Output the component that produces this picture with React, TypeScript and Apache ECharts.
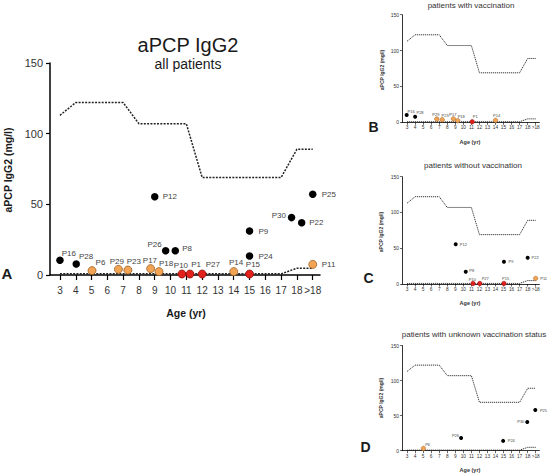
import React, { useEffect, useRef } from 'react';
import * as echarts from 'echarts';

// ---------- data ----------
const tickAges = [3, 4, 5, 6, 7, 8, 9, 10, 11, 12, 13, 14, 15, 16, 17, 18, 19];
const tickLabels = ['3', '4', '5', '6', '7', '8', '9', '10', '11', '12', '13', '14', '15', '16', '17', '18', '>18'];

const upperRefAge = [3, 4, 7, 8, 11, 12, 17, 18, 19];
const upperRefValue = [113, 122, 122, 107, 107, 69, 69, 89, 89];
const lowerRefAge = [3, 17, 18, 19];
const lowerRefValue = [0.8, 0.8, 4.8, 4.8];

// Panel A: all patients
const allNames = ['P16', 'P28', 'P6', 'P29', 'P23', 'P17', 'P18', 'P12', 'P26', 'P8', 'P10', 'P1', 'P27', 'P14', 'P15', 'P9', 'P24', 'P30', 'P22', 'P25', 'P11'];
const allAges = [3, 4.03, 5.03, 6.7, 7.3, 8.74, 9.27, 9.0, 9.69, 10.3, 10.72, 11.23, 12, 14, 15, 15, 15, 17.66, 18.3, 19, 19];
const allValues = [10.4, 7.8, 3.1, 4.0, 3.5, 4.5, 2.4, 55.4, 17.2, 17.2, 0.7, 0.7, 0.7, 2.4, 0.7, 31.1, 13.4, 40.6, 37, 57.1, 7.5];
const allKinds = ['black', 'black', 'orange', 'orange', 'orange', 'orange', 'orange', 'black', 'black', 'black', 'red', 'red', 'red', 'orange', 'red', 'black', 'black', 'black', 'black', 'black', 'orange'];

// Panel B: with vaccination
const vacNames = ['P16', 'P28', 'P29', 'P23', 'P17', 'P18', 'P1', 'P14'];
const vacAges = [2.95, 4.0, 6.7, 7.37, 8.76, 9.3, 11.1, 14.0];
const vacValues = [10.3, 7.8, 4.5, 3.6, 4.8, 2.3, 0.7, 2.7];
const vacKinds = ['black', 'black', 'orange', 'orange', 'orange', 'orange', 'red', 'orange'];

// Panel C: without vaccination
const noVacNames = ['P12', 'P8', 'P10', 'P27', 'P9', 'P15', 'P22', 'P11'];
const noVacAges = [9.05, 10.3, 11.2, 12.05, 15.05, 15.05, 18.0, 19.0];
const noVacValues = [55.5, 17.0, 0.7, 0.7, 31.0, 0.7, 36.8, 7.8];
const noVacKinds = ['black', 'black', 'red', 'red', 'black', 'red', 'black', 'orange'];

// Panel D: unknown vaccination status
const unkNames = ['P6', 'P26', 'P24', 'P30', 'P25'];
const unkAges = [5.03, 9.72, 14.95, 17.95, 18.95];
const unkValues = [3.3, 18.0, 14.0, 41.0, 58.0];
const unkKinds = ['orange', 'black', 'black', 'black', 'black'];

// ---------- styling (not data) ----------
const labelPlacement: Record<string, [number, number, string]> = {
  P12: [8, 0, 'left'], P25: [9, 0, 'left'], P30: [-5.7, -1.7, 'right'], P22: [7.6, 0, 'left'],
  P9: [9, 0, 'left'], P26: [-4, -5.7, 'right'], P8: [7, -2.5, 'left'], P24: [9, 0, 'left'],
  P16: [1.7, -7, 'left'], P28: [2.7, -7.3, 'left'], P6: [4, -8, 'left'], P29: [-8.3, -7.6, 'left'],
  P23: [-0.7, -8, 'left'], P17: [-7.4, -7.7, 'left'], P18: [0.3, -7.4, 'left'], P10: [-7.7, -8, 'left'],
  P1: [1.7, -9, 'left'], P27: [4, -9, 'left'], P14: [-4.4, -8.4, 'left'], P15: [-3.3, -9, 'left'],
  P11: [9.4, 0, 'left'],
};

const kindStyle: Record<string, { fill: string; border: string; bw: number }> = {
  black: { fill: '#000000', border: '#000000', bw: 0 },
  orange: { fill: '#F2A455', border: '#9A5E22', bw: 0.8 },
  red: { fill: '#E3211C', border: '#8A1010', bw: 0.8 },
};

const FONT = 'Liberation Sans, Arial, Helvetica, sans-serif';

export default function App() {
  const ref = useRef<HTMLDivElement>(null);

  useEffect(() => {
    if (!ref.current) return;
    const chart = echarts.init(ref.current, undefined, { renderer: 'svg' });

    const grids = [
      { left: 50, top: 63, width: 270, height: 212 },
      { left: 402, top: 14.7, width: 137.4, height: 107.6 },
      { left: 402, top: 176.7, width: 137.4, height: 107.3 },
      { left: 402, top: 345.5, width: 137.4, height: 105.2 },
    ];
    const big = [true, false, false, false];

    const xAxes = grids.map((_, i) => ({
      type: 'value',
      gridIndex: i,
      min: 2.37,
      max: 19.46,
      splitLine: { show: false },
      axisLine: { show: true, lineStyle: { color: '#000', width: big[i] ? 1.5 : 0.8 } },
      axisTick: {
        show: true,
        customValues: tickAges,
        length: big[i] ? 5 : 2.5,
        lineStyle: { color: '#000', width: big[i] ? 1.2 : 0.6 },
      },
      axisLabel: {
        customValues: tickAges,
        formatter: (v: number) => tickLabels[tickAges.indexOf(Math.round(v))] ?? '',
        fontSize: big[i] ? 10 : 4.8,
        fontFamily: FONT,
        color: '#333',
        margin: big[i] ? 10 : 3,
      },
    }));

    const yAxes = grids.map((_, i) => ({
      type: 'value',
      gridIndex: i,
      min: 0,
      max: 150,
      interval: 50,
      splitLine: { show: false },
      axisLine: { show: true, lineStyle: { color: '#000', width: big[i] ? 1.5 : 0.8 } },
      axisTick: { show: true, length: big[i] ? 4 : 2, lineStyle: { color: '#000', width: big[i] ? 1.2 : 0.6 } },
      axisLabel: {
        fontSize: big[i] ? 11 : 5,
        fontFamily: FONT,
        color: '#333',
        margin: big[i] ? 7 : 3,
      },
    }));

    const panels = [
      { names: allNames, ages: allAges, values: allValues, kinds: allKinds },
      { names: vacNames, ages: vacAges, values: vacValues, kinds: vacKinds },
      { names: noVacNames, ages: noVacAges, values: noVacValues, kinds: noVacKinds },
      { names: unkNames, ages: unkAges, values: unkValues, kinds: unkKinds },
    ];

    const series: any[] = [];
    panels.forEach((p, i) => {
      const scale = big[i] ? 1 : 0.51;
      series.push({
        type: 'line',
        xAxisIndex: i,
        yAxisIndex: i,
        data: upperRefAge.map((a, k) => [a, upperRefValue[k]]),
        symbol: 'none',
        silent: true,
        lineStyle: { color: '#222', width: big[i] ? 1.5 : 0.9, type: big[i] ? [2, 1.3] : [1.2, 0.8] },
      });
      series.push({
        type: 'line',
        xAxisIndex: i,
        yAxisIndex: i,
        data: lowerRefAge.map((a, k) => [a, lowerRefValue[k]]),
        symbol: 'none',
        silent: true,
        lineStyle: { color: '#222', width: big[i] ? 1.5 : 0.9, type: big[i] ? [2, 1.3] : [1.2, 0.8] },
      });
      ['black', 'orange', 'red'].forEach((kind) => {
        const ks = kindStyle[kind];
        const size = big[i] ? (kind === 'black' ? 7.5 : 8) : (kind === 'black' ? 4 : 4.5);
        const data = p.names
          .map((n, k) => ({ n, k }))
          .filter(({ k }) => p.kinds[k] === kind)
          .map(({ n, k }) => {
            const lp = labelPlacement[n] || [6, 0, 'left'];
            return {
              name: n,
              value: [p.ages[k], p.values[k]],
              label: {
                position: [size / 2 + lp[0] * scale, size / 2 + lp[1] * scale],
                align: lp[2],
              },
            };
          });
        series.push({
          type: 'scatter',
          xAxisIndex: i,
          yAxisIndex: i,
          symbol: 'circle',
          symbolSize: size,
          clip: false,
          z: 5,
          itemStyle: { color: ks.fill, borderColor: ks.border, borderWidth: big[i] ? ks.bw : ks.bw * 0.6, opacity: 1 },
          label: {
            show: true,
            formatter: (d: any) => d.name,
            fontSize: big[i] ? 8 : 4,
            fontFamily: FONT,
            color: '#444',
            verticalAlign: 'middle',
          },
          data,
        });
      });
    });

    const txt = (text: string, x: number, y: number, size: number, bold = false, rotation = 0, color = '#1a1a1a') => ({
      type: 'text',
      x,
      y,
      rotation,
      silent: true,
      style: {
        text,
        fontSize: size,
        fontFamily: FONT,
        fontWeight: bold ? 'bold' : 'normal',
        fill: color,
        textAlign: 'center',
        textVerticalAlign: 'middle',
      },
    });

    const graphic = [
      txt('aPCP IgG2', 188, 45, 20),
      txt('all patients', 188, 64, 14),
      txt('aPCP IgG2 (mg/l)', 8, 170, 10.5, true, Math.PI / 2),
      txt('Age (yr)', 186, 313, 10.5, true),
      txt('A', 7, 273, 15, true),

      txt('patients with vaccination', 471, 5, 8, false, 0, '#333'),
      txt('aPCP IgG2 (mg/l)', 382, 70, 5, true, Math.PI / 2, '#333'),
      txt('Age (yr)', 470, 141.5, 5.5, true, 0, '#333'),
      txt('B', 373.5, 127, 14, true),

      txt('patients without vaccination', 473, 165.5, 8, false, 0, '#333'),
      txt('aPCP IgG2 (mg/l)', 381, 232, 5, true, Math.PI / 2, '#333'),
      txt('Age (yr)', 470, 303, 5.5, true, 0, '#333'),
      txt('C', 368.5, 278, 14, true),

      txt('patients with unknown vaccination status', 474, 334, 8, false, 0, '#333'),
      txt('aPCP IgG2 (mg/l)', 381, 398, 5, true, Math.PI / 2, '#333'),
      txt('Age (yr)', 470, 470, 5.5, true, 0, '#333'),
      txt('D', 365.5, 447, 14, true),
    ];

    chart.setOption({
      animation: false,
      backgroundColor: '#ffffff',
      grid: grids,
      xAxis: xAxes,
      yAxis: yAxes,
      series,
      graphic,
    });

    return () => chart.dispose();
  }, []);

  return <div ref={ref} style={{ position: 'absolute', left: 0, top: 0, width: 547, height: 473 }} />;
}
